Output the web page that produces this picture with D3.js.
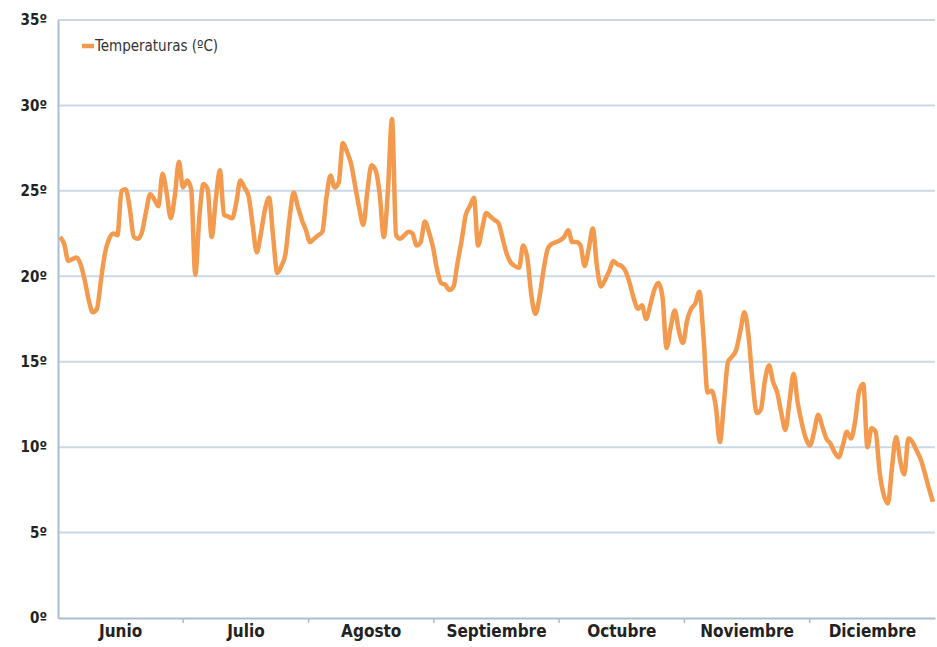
<!DOCTYPE html>
<html>
<head>
<meta charset="utf-8">
<script src="https://cdn.jsdelivr.net/npm/d3@7"></script>
<style>
  body { margin: 0; background: #fff; }
  text { font-family: "Liberation Sans Narrow", "DejaVu Sans Condensed", "Open Sans", sans-serif; }
</style>
</head>
<body>
<div id="wrapper"></div>
<script>
// month categories on the x axis
const months = ["Junio", "Julio", "Agosto", "Septiembre", "Octubre", "Noviembre", "Diciembre"]
// y ticks
const yTicks = [0, 5, 10, 15, 20, 25, 30, 35]
// daily temperatures (ºC), 1 June .. 31 December
const temps = [
  22.3, 21.9, 20.9, 21.0, 21.1, 20.7, 19.8, 18.6, 17.9, 18.1,
  19.8, 21.4, 22.2, 22.5, 22.4, 25.0, 25.1, 24.0, 22.3, 22.2,
  22.6, 23.8, 24.8, 24.5, 24.1, 26.0, 24.9, 23.4, 24.7, 26.7,
  25.2, 25.6, 25.1, 20.1, 23.5, 25.4, 25.1, 22.3, 24.5, 26.2,
  23.6, 23.5, 23.4, 24.3, 25.6, 25.2, 24.7, 23.0, 21.4, 22.5,
  23.9, 24.6, 22.3, 20.2, 20.6, 21.3, 23.4, 24.9, 24.1, 23.3,
  22.7, 22.0, 22.2, 22.4, 22.6, 24.6, 25.9, 25.2, 25.5, 27.8,
  27.3, 26.6, 25.3, 24.0, 23.0, 25.0, 26.5, 26.2, 24.8, 22.3,
  25.0, 29.2, 22.4, 22.2, 22.4, 22.6, 22.5, 21.8, 22.0, 23.2,
  22.6, 21.7, 20.4, 19.6, 19.5, 19.2, 19.4, 20.8, 22.1, 23.6,
  24.1, 24.6, 21.8, 22.8, 23.7, 23.5, 23.3, 23.1, 22.2, 21.3,
  20.8, 20.6, 20.5, 21.8, 21.1, 18.9, 17.8, 18.8, 20.4, 21.6,
  21.9, 22.0, 22.1, 22.3, 22.7, 22.0, 22.0, 21.8, 20.6, 21.6,
  22.8, 20.6, 19.4, 19.8, 20.3, 20.9, 20.7, 20.6, 20.3, 19.6,
  18.7, 18.1, 18.3, 17.5, 18.3, 19.2, 19.6, 18.8, 15.8, 17.0,
  18.0, 16.8, 16.1, 17.4, 18.1, 18.4, 19.1, 16.5, 13.2, 13.3,
  12.4, 10.3, 12.6, 15.0, 15.3, 15.7, 16.8, 17.9, 16.5, 13.8,
  12.0, 12.2, 13.9, 14.8, 13.8, 13.2, 12.0, 11.0, 12.7, 14.3,
  12.6, 11.4, 10.5, 10.1, 10.9, 11.9, 11.2, 10.5, 10.2, 9.7,
  9.4, 10.1, 10.9, 10.5, 11.5, 13.3, 13.7, 10.0, 11.1, 10.9,
  8.5, 7.2, 6.7, 8.8, 10.6, 9.2, 8.4, 10.5, 10.3, 9.8,
  9.3, 8.5, 7.6, 6.8
]
const seriesName = "Temperaturas (ºC)"

const dimensions = {
  width: 937,
  height: 647,
  margin: { top: 20, right: 2, bottom: 29, left: 58 }
}
dimensions.boundedWidth = dimensions.width - dimensions.margin.left - dimensions.margin.right
dimensions.boundedHeight = dimensions.height - dimensions.margin.top - dimensions.margin.bottom

const svg = d3.select("#wrapper")
  .append("svg")
  .attr("width", dimensions.width)
  .attr("height", dimensions.height)
const bounds = svg.append("g")
  .attr("transform", `translate(${dimensions.margin.left},${dimensions.margin.top})`)

// scales
const yScale = d3.scaleLinear()
  .domain([0, 35])
  .range([dimensions.boundedHeight, 0])
const xScale = d3.scaleLinear()
  .domain([-0.5, temps.length - 0.5])
  .range([0, dimensions.boundedWidth])
const monthScale = d3.scaleBand()
  .domain(months)
  .range([0, dimensions.boundedWidth])

// gridlines
bounds.append("g")
  .selectAll("line")
  .data(yTicks.filter(d => d > 0))
  .join("line")
  .attr("x1", 0)
  .attr("x2", dimensions.boundedWidth)
  .attr("y1", d => yScale(d))
  .attr("y2", d => yScale(d))
  .attr("stroke", "#c9d8e6")
  .attr("stroke-width", 2)

// y axis
const yAxis = d3.axisLeft(yScale)
  .tickValues(yTicks)
  .tickSize(0)
  .tickPadding(11)
  .tickFormat(d => d + "º")
const yAxisGroup = bounds.append("g").call(yAxis)
yAxisGroup.select(".domain")
  .attr("stroke", "#aabdd0")
  .attr("stroke-width", 2)
yAxisGroup.selectAll("text")
  .attr("fill", "#222")
  .style("font-size", "15px")
  .style("font-weight", "bold")

// x axis (month categories)
const xAxis = d3.axisBottom(monthScale)
  .tickSize(0)
  .tickPadding(7)
const xAxisGroup = bounds.append("g")
  .attr("transform", `translate(0,${dimensions.boundedHeight})`)
  .call(xAxis)
xAxisGroup.select(".domain")
  .attr("stroke", "#aabdd0")
  .attr("stroke-width", 2)
xAxisGroup.selectAll("text")
  .attr("fill", "#222")
  .style("font-size", "17px")
  .style("font-weight", "bold")
// tick marks at month boundaries
xAxisGroup.append("g")
  .selectAll("line")
  .data(months.slice(1))
  .join("line")
  .attr("x1", d => monthScale(d))
  .attr("x2", d => monthScale(d))
  .attr("y1", 0)
  .attr("y2", 5)
  .attr("stroke", "#aabdd0")
  .attr("stroke-width", 1.5)

// line
const lineGenerator = d3.line()
  .x((d, i) => xScale(i))
  .y(d => yScale(d))
  .curve(d3.curveMonotoneX)
bounds.append("path")
  .datum(temps)
  .attr("d", lineGenerator)
  .attr("fill", "none")
  .attr("stroke", "#f39a4e")
  .attr("stroke-width", 4.5)
  .attr("stroke-linejoin", "round")

// legend
const legend = svg.append("g")
  .attr("transform", "translate(82,46)")
legend.append("line")
  .attr("x1", 0)
  .attr("x2", 12)
  .attr("stroke", "#f39a4e")
  .attr("stroke-width", 4.5)
legend.append("text")
  .attr("x", 13)
  .attr("y", 0)
  .attr("dy", "0.35em")
  .text(seriesName)
  .attr("fill", "#333")
  .style("font-size", "15px")
</script>
</body>
</html>
